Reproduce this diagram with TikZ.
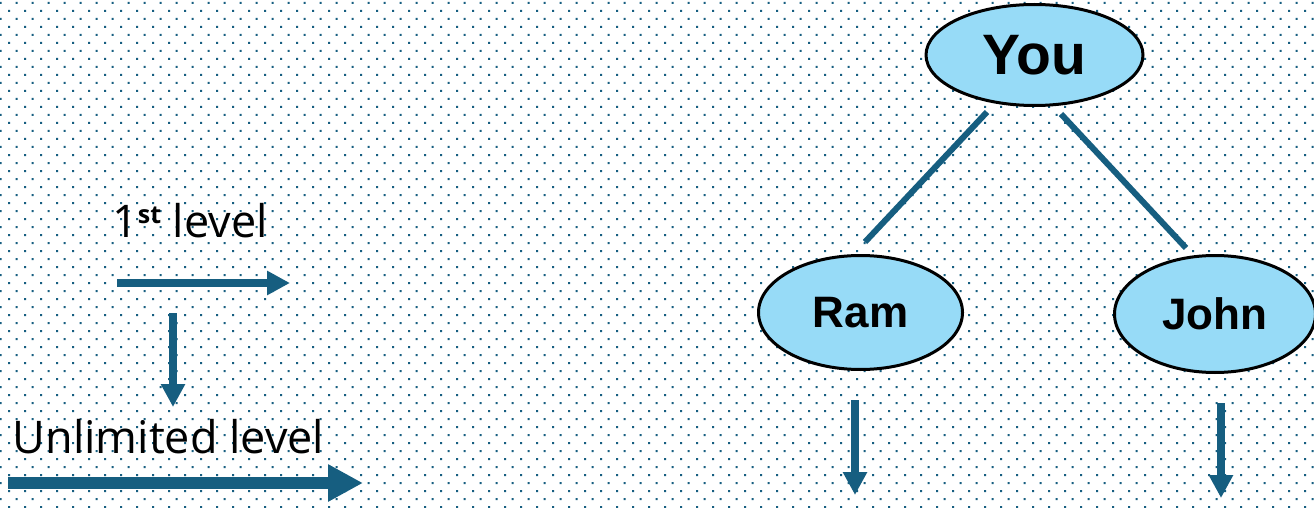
\documentclass[tikz,border=0pt]{standalone}
\usepackage{fontspec}
\setmainfont{Liberation Sans}
\newfontfamily\labelfont{Open Sans}
\usetikzlibrary{arrows.meta,shapes.geometric}
\definecolor{dotblue}{RGB}{22,94,128}
\definecolor{nodefill}{RGB}{151,219,247}
\begin{document}
\begin{tikzpicture}[x=1pt,y=-1pt,
  person/.style={ellipse,draw=black,line width=3pt,fill=nodefill,inner sep=0pt,
    font=\bfseries\fontsize{44}{50}\selectfont},
  link/.style={draw=dotblue,line width=6pt},
  flow/.style={draw=dotblue,line width=8pt,-{Triangle[length=23pt,width=23pt]}},
  bigflow/.style={draw=dotblue,line width=12pt,-{Triangle[length=35pt,width=35pt]}},
  lbl/.style={inner sep=0pt,anchor=base,font=\labelfont\fontsize{45}{52}\selectfont}]
\fill[white] (0,0) rectangle (1314,508);
\useasboundingbox (0,0) rectangle (1314,508);
% dotted background
\foreach \j in {0,...,31}{
  \fill[dotblue] \foreach \i in {0,...,82}{
    (\i*16-0.3,\j*16+2) rectangle ++(2,2)
    (\i*16+8,\j*16+10) rectangle ++(2,2)};
}
% tree nodes
\node[person,minimum width=217pt,minimum height=101pt,
  font=\bfseries\fontsize{57}{64}\selectfont] (you) at (1034.5,55) {You};
\node[person,minimum width=204pt,minimum height=114pt] (ram) at (860.5,312.5) {Ram};
\node[person,minimum width=201pt,minimum height=117pt] (john) at (1215,314) {John};
% connectors
\coordinate (yr) at ([shift={(-47.5,57)}]you.center);
\coordinate (ry) at ([shift={(4.5,-70.5)}]ram.center);
\coordinate (yj) at ([shift={(26.5,59)}]you.center);
\coordinate (jy) at ([shift={(-29,-66)}]john.center);
\draw[link] (yr) -- (ry);
\draw[link] (yj) -- (jy);
% arrows below nodes
\coordinate (r1) at ([shift={(-5.5,87.5)}]ram.center);
\coordinate (r2) at ([shift={(-5.5,182.5)}]ram.center);
\coordinate (j1) at ([shift={(6,89)}]john.center);
\coordinate (j2) at ([shift={(6,184)}]john.center);
\draw[flow] (r1) -- (r2);
\draw[flow] (j1) -- (j2);
% legend
\node[lbl] (first) at (190,237) {1\raisebox{14pt}{\fontsize{25}{25}\selectfont\bfseries st} level};
\node[lbl] (unl) at (168.5,453) {Unlimited level};
\coordinate (h1) at (117,283);
\coordinate (h2) at (290,283);
\coordinate (v1) at (173,313);
\coordinate (v2) at (173,407);
\coordinate (u1) at (8,483);
\coordinate (u2) at (363,483);
\draw[flow] (h1) -- (h2);
\draw[flow] (v1) -- (v2);
\draw[bigflow] (u1) -- (u2);
\end{tikzpicture}
\end{document}
